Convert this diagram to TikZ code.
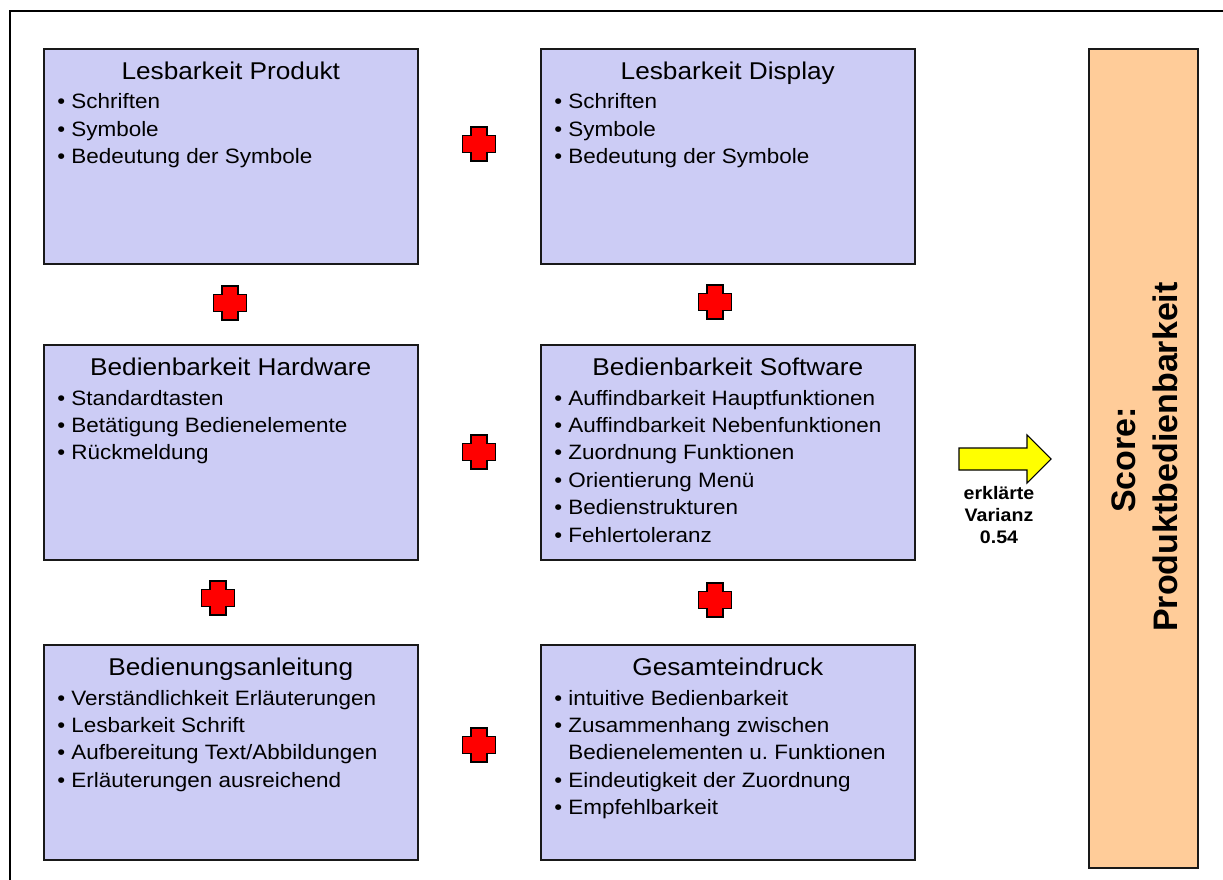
\documentclass[tikz,border=0pt]{standalone}
\usepackage{fontspec}
\setmainfont{Liberation Sans}[FakeStretch=1.08]
\newfontfamily\plainsans{Liberation Sans}
\usetikzlibrary{calc}
\definecolor{boxfill}{RGB}{204,204,245}
\definecolor{scorefill}{RGB}{255,204,153}
\definecolor{plusred}{RGB}{255,0,0}
\definecolor{arrowyellow}{RGB}{255,255,0}
\tikzset{
  box/.style={draw=black!90, line width=1.15pt, fill=boxfill, anchor=north west,
    minimum width=280.5pt, minimum height=161.25pt, inner sep=0pt},
  scorebox/.style={draw=black!90, line width=1.15pt, fill=scorefill, anchor=north west,
    minimum width=81.75pt, minimum height=614.25pt, inner sep=0pt},
  boxtitle/.style={anchor=base, inner sep=0pt, font=\fontsize{18.2pt}{21pt}\selectfont},
  bul/.style={anchor=base west, inner sep=0pt, font=\fontsize{15.6pt}{19pt}\selectfont},
  lab/.style={anchor=base, inner sep=0pt, font=\fontsize{13.6pt}{16pt}\selectfont\bfseries},
  scoretext/.style={anchor=base, inner sep=0pt, rotate=90,
    font=\plainsans\fontsize{25.5pt}{30pt}\selectfont\bfseries},
  plusshape/.style={draw=black, line width=1.1pt, fill=plusred, line join=miter},
  arrowshape/.style={draw=black, line width=0.8pt, fill=arrowyellow, line join=miter},
  plus/.pic={\path[plusstyle/.try] (-8,-17) -- (8,-17) -- (8,-8.5) -- (16.5,-8.5) -- (16.5,8.5)
     -- (8,8.5) -- (8,17) -- (-8,17) -- (-8,8.5) -- (-16.5,8.5) -- (-16.5,-8.5) -- (-8,-8.5) -- cycle;}
}
\newcommand\bl{\textbullet\ }
\newcommand\ind{\phantom{\textbullet\ }}
\newcommand\blist[2]{%
  \foreach \t [count=\i from 0] in {#2} {%
    \node[bul] (#1-\i) at ($(#1.north west)+(14,61+27.4*\i)$) {\t};}}
\begin{document}
\begin{tikzpicture}[x=0.75pt,y=-0.75pt]
\useasboundingbox (0,0) rectangle (1223,880);
% outer frame
\draw[line width=1.5pt] (10,880) -- (10,11) -- (1223,11);

% boxes
\node[box] (b1) at (43,48) {};
\node[box] (b2) at (540,48) {};
\node[box] (b3) at (43,344) {};
\node[box] (b4) at (540,344) {};
\node[box] (b5) at (43,644) {};
\node[box] (b6) at (540,644) {};
\node[scorebox] (sc) at (1088,48) {};

% titles
\node[boxtitle] (t1) at ($(b1.north)+(0,31.5)$) {Lesbarkeit Produkt};
\node[boxtitle] (t2) at ($(b2.north)+(0,31.5)$) {Lesbarkeit Display};
\node[boxtitle] (t3) at ($(b3.north)+(0,31.5)$) {Bedienbarkeit Hardware};
\node[boxtitle] (t4) at ($(b4.north)+(0,31.5)$) {Bedienbarkeit Software};
\node[boxtitle] (t5) at ($(b5.north)+(0,31.5)$) {Bedienungsanleitung};
\node[boxtitle] (t6) at ($(b6.north)+(0,31.5)$) {Gesamteindruck};

% bullets
\blist{b1}{\bl Schriften, \bl Symbole, \bl Bedeutung der Symbole}
\blist{b2}{\bl Schriften, \bl Symbole, \bl Bedeutung der Symbole}
\blist{b3}{\bl Standardtasten, \bl Betätigung Bedienelemente, \bl Rückmeldung}
\blist{b4}{\bl Auffindbarkeit Hauptfunktionen, \bl Auffindbarkeit Nebenfunktionen,
  \bl Zuordnung Funktionen, \bl Orientierung Menü, \bl Bedienstrukturen, \bl Fehlertoleranz}
\blist{b5}{\bl Verständlichkeit Erläuterungen, \bl Lesbarkeit Schrift,
  \bl Aufbereitung Text/Abbildungen, \bl Erläuterungen ausreichend}
\blist{b6}{\bl intuitive Bedienbarkeit, \bl Zusammenhang zwischen,
  \ind Bedienelementen u.\ Funktionen, \bl Eindeutigkeit der Zuordnung, \bl Empfehlbarkeit}

% plus signs
\pic[plusstyle/.style=plusshape] at (479,144) {plus};
\pic[plusstyle/.style=plusshape] at (230,303) {plus};
\pic[plusstyle/.style=plusshape] at (715,302) {plus};
\pic[plusstyle/.style=plusshape] at (479,452) {plus};
\pic[plusstyle/.style=plusshape] at (218,598) {plus};
\pic[plusstyle/.style=plusshape] at (715,600) {plus};
\pic[plusstyle/.style=plusshape] at (479,745) {plus};

% arrow
\draw[arrowshape] (959,448) -- (1027,448) -- (1027,435) -- (1051,459) -- (1027,483)
  -- (1027,470) -- (959,470) -- cycle;
\node[lab] (l1) at (999,499.5) {erklärte};
\node[lab] (l2) at (999,521.5) {Varianz};
\node[lab] (l3) at (999,543.5) {0.54};

% score text
\node[scoretext] (s1) at (1135,460) {Score:};
\node[scoretext] (s2) at (1177,457) {Produktbedienbarkeit};
\end{tikzpicture}
\end{document}
